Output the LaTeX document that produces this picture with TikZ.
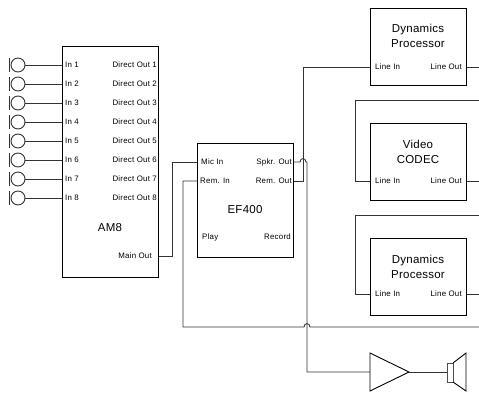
\documentclass[tikz,border=0pt]{standalone}
\usepackage{fontspec}
\setmainfont{Liberation Sans}
\newfontfamily\lblfont[LetterSpace=3]{Liberation Sans}
\newfontfamily\ttlfont[LetterSpace=2]{Liberation Sans}
\begin{document}
\begin{tikzpicture}[x=1pt,y=-1pt,
  box/.style={draw=black, line width=0.9pt, fill=white, inner sep=0, anchor=north west},
  wire/.style={draw=black!80, line width=0.9pt},
  lbl/.style={font=\lblfont\fontsize{7.9}{8}\selectfont, inner sep=0},
  ttl/.style={font=\ttlfont\fontsize{11.5}{15}\selectfont, inner sep=0, align=center},
  mic/.style={circle, draw=black!80, line width=0.9pt, minimum size=14pt, inner sep=0}]
\useasboundingbox (0,0) rectangle (479,392);

% boxes
\node[box, minimum width=96pt, minimum height=231pt] (am8) at (62,46) {};
\node[box, minimum width=96pt, minimum height=114pt] (ef) at (197,143) {};
\node[box, minimum width=96pt, minimum height=77pt] (dp1) at (370,8) {};
\node[box, minimum width=96pt, minimum height=77pt] (vc) at (370,123) {};
\node[box, minimum width=96pt, minimum height=77pt] (dp2) at (370,238) {};

% AM8 labels, microphones
\foreach \i in {1,...,8}{
  \pgfmathsetmacro{\yy}{65+19*(\i-1)}
  \node[lbl, anchor=west] (in\i) at (65,\yy) {In \i};
  \node[lbl, anchor=east] (do\i) at (157,\yy) {Direct Out \i};
  \node[mic] (m\i) at (18,\yy) {};
  \draw[wire] ([shift={(-0.8,-7)}]m\i.west) -- ([shift={(-0.8,7)}]m\i.west);
  \draw[wire] (m\i.east) -- (m\i.east -| am8.west);
}
\node[ttl] (am8t) at (110,228) {AM8};
\node[lbl, anchor=east] (mainout) at (152,256) {Main Out};

% EF400 labels
\node[lbl, anchor=west] (micin) at (201,162) {Mic In};
\node[lbl, anchor=west] (remin) at (200,181) {Rem. In};
\node[lbl, anchor=east] (spkr) at (292,162) {Spkr. Out};
\node[lbl, anchor=east] (remout) at (292,181) {Rem. Out};
\node[ttl] (eft) at (245,210) {EF400};
\node[lbl, anchor=west] (play) at (202,237) {Play};
\node[lbl, anchor=east] (rec) at (291,237) {Record};

% right boxes labels
\node[ttl] (dp1t) at (418,36) {Dynamics\\Processor};
\node[lbl, anchor=west] (dp1li) at (375,67) {Line In};
\node[lbl, anchor=east] (dp1lo) at (462,67) {Line Out};
\node[ttl] (vct) at (418,152) {Video\\CODEC};
\node[lbl, anchor=west] (vcli) at (375,181) {Line In};
\node[lbl, anchor=east] (vclo) at (462,181) {Line Out};
\node[ttl] (dp2t) at (418,267) {Dynamics\\Processor};
\node[lbl, anchor=west] (dp2li) at (375,294) {Line In};
\node[lbl, anchor=east] (dp2lo) at (462,294) {Line Out};

% edge coordinates
\coordinate (e1) at (479,67);
\coordinate (e2) at (479,100);
\coordinate (e3) at (479,181);
\coordinate (e4) at (479,215);
\coordinate (e5) at (479,294);
\coordinate (e6) at (479,327);
\coordinate (ampin) at (370,372);
\coordinate (ampout) at (409,372);

% wires
\draw[wire] (am8.east |- mainout.east) -- ++(14,0) |- (ef.west |- micin.west);
\draw[wire] (ef.west |- remin.west) -- ++(-14,0) |- (304,327) .. controls (304,322.5) and (310,322.5) .. (310,327) -- (e6);
\draw[wire] (ef.east |- spkr.east) -- (300,162) .. controls (300,157.5) and (306,157.5) .. (306,162) -- (307,162) |- (ampin);
\draw[wire] (ef.east |- remout.east) -- ++(10,0) |- (dp1.west |- dp1li.west);
\draw[wire] (dp1.east |- dp1lo.east) -- (e1);
\draw[wire] (e2) -- (355,100) |- (vc.west |- vcli.west);
\draw[wire] (vc.east |- vclo.east) -- (e3);
\draw[wire] (e4) -- (355,215) |- (dp2.west |- dp2li.west);
\draw[wire] (dp2.east |- dp2lo.east) -- (e5);

% amplifier and speaker
\draw[line width=0.9pt, line join=miter] (370,353) -- (ampout) -- (370,391) -- cycle;
\draw[wire] (ampout) -- (447,372);
\draw[line width=0.9pt, draw=black!70] (447,363) rectangle (453,382);
\draw[line width=0.9pt] (453,363) -- (466,353) -- (466,391) -- (453,382);
\end{tikzpicture}
\end{document}
